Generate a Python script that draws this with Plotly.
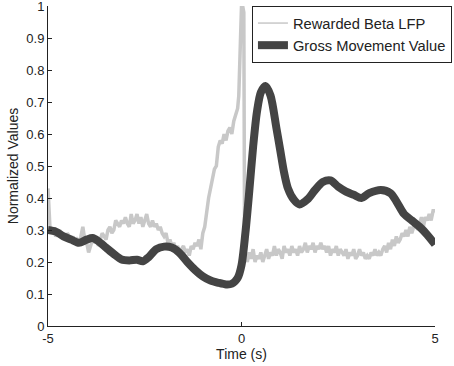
import plotly.graph_objects as go

# Rewarded Beta LFP (light gray, noisy)
lfp_t = [-5.0, -4.97, -4.95, -4.9, -4.85, -4.8, -4.75, -4.7, -4.65, -4.6, -4.55, -4.5, -4.45, -4.4, -4.35,
         -4.3, -4.25, -4.2, -4.15, -4.1, -4.05, -4.0, -3.95, -3.9, -3.85, -3.8, -3.75, -3.7, -3.65,
         -3.6, -3.55, -3.5, -3.45, -3.4, -3.35, -3.3, -3.25, -3.2, -3.15, -3.1, -3.05, -3.0, -2.95,
         -2.9, -2.85, -2.8, -2.75, -2.7, -2.65, -2.6, -2.55, -2.5, -2.45, -2.4, -2.35, -2.3, -2.25,
         -2.2, -2.15, -2.1, -2.05, -2.0, -1.95, -1.9, -1.85, -1.8, -1.75, -1.7, -1.65, -1.6, -1.55,
         -1.5, -1.45, -1.4, -1.35, -1.3, -1.25, -1.2, -1.15, -1.1, -1.05, -1.0, -0.95, -0.9, -0.85,
         -0.8, -0.75, -0.7, -0.65, -0.6, -0.55, -0.5, -0.45, -0.4, -0.35, -0.3, -0.25, -0.2, -0.15,
         -0.1, -0.07, -0.04, -0.02, 0.0, 0.03, 0.06, 0.08, 0.1, 0.15, 0.2, 0.25, 0.3, 0.35, 0.4,
         0.45, 0.5, 0.55, 0.6, 0.65, 0.7, 0.75, 0.8, 0.85, 0.9, 0.95, 1.0, 1.05, 1.1, 1.15, 1.2,
         1.25, 1.3, 1.35, 1.4, 1.45, 1.5, 1.55, 1.6, 1.65, 1.7, 1.75, 1.8, 1.85, 1.9, 1.95, 2.0,
         2.05, 2.1, 2.15, 2.2, 2.25, 2.3, 2.35, 2.4, 2.45, 2.5, 2.55, 2.6, 2.65, 2.7, 2.75, 2.8,
         2.85, 2.9, 2.95, 3.0, 3.05, 3.1, 3.15, 3.2, 3.25, 3.3, 3.35, 3.4, 3.45, 3.5, 3.55, 3.6,
         3.65, 3.7, 3.75, 3.8, 3.85, 3.9, 3.95, 4.0, 4.05, 4.1, 4.15, 4.2, 4.25, 4.3, 4.35, 4.4,
         4.45, 4.5, 4.55, 4.6, 4.65, 4.7, 4.75, 4.8, 4.85, 4.9, 4.95, 5.0]
lfp_v = [0.43, 0.36, 0.31, 0.29, 0.30, 0.28, 0.29, 0.30, 0.28, 0.29, 0.27, 0.29, 0.28, 0.27, 0.28,
         0.26, 0.27, 0.26, 0.28, 0.31, 0.27, 0.26, 0.23, 0.25, 0.27, 0.26, 0.28, 0.25, 0.27,
         0.29, 0.28, 0.27, 0.30, 0.31, 0.29, 0.30, 0.33, 0.32, 0.31, 0.33, 0.32, 0.34, 0.32,
         0.31, 0.35, 0.32, 0.33, 0.35, 0.32, 0.34, 0.31, 0.33, 0.35, 0.32, 0.31, 0.33, 0.31,
         0.32, 0.30, 0.31, 0.29, 0.28, 0.29, 0.26, 0.27, 0.25, 0.26, 0.24, 0.25, 0.23, 0.24,
         0.25, 0.23, 0.24, 0.22, 0.25, 0.24, 0.26, 0.25, 0.27, 0.24, 0.29, 0.31, 0.36, 0.40,
         0.43, 0.46, 0.49, 0.50, 0.56, 0.58, 0.57, 0.60, 0.58, 0.61, 0.62, 0.60, 0.64, 0.66,
         0.68, 0.72, 0.82, 0.92, 1.0, 1.0, 0.98, 0.24, 0.22, 0.20, 0.23, 0.21, 0.24, 0.20, 0.22,
         0.21, 0.23, 0.20, 0.22, 0.24, 0.21, 0.23, 0.22, 0.25, 0.22, 0.24, 0.23, 0.21, 0.25, 0.23, 0.24,
         0.22, 0.25, 0.23, 0.24, 0.22, 0.25, 0.23, 0.24, 0.26, 0.23, 0.25, 0.24, 0.26, 0.23, 0.25, 0.24,
         0.26, 0.24, 0.25, 0.23, 0.25, 0.22, 0.24, 0.23, 0.25, 0.22, 0.24, 0.23, 0.22, 0.24, 0.21, 0.23,
         0.22, 0.24, 0.21, 0.22, 0.24, 0.22, 0.23, 0.21, 0.22, 0.21, 0.23, 0.22, 0.24, 0.22, 0.23, 0.22,
         0.24, 0.25, 0.23, 0.26, 0.24, 0.27, 0.25, 0.28, 0.26, 0.27, 0.29, 0.28, 0.30, 0.28, 0.31, 0.29,
         0.31, 0.33, 0.30, 0.32, 0.34, 0.31, 0.34, 0.33, 0.35, 0.33, 0.36, 0.36]

# Gross Movement Value (dark, smooth)
gmv_t = [-5.0, -4.8, -4.6, -4.4, -4.2, -4.0, -3.85, -3.7, -3.5, -3.3, -3.1, -2.9, -2.7, -2.55, -2.4,
         -2.2, -2.0, -1.8, -1.6, -1.4, -1.2, -1.0, -0.8, -0.6, -0.4, -0.25, -0.1, 0.0, 0.1, 0.2,
         0.3, 0.4, 0.5, 0.62, 0.75, 0.9, 1.0, 1.1, 1.2, 1.35, 1.5, 1.7, 1.9, 2.1, 2.3, 2.5, 2.7,
         2.9, 3.1, 3.3, 3.6, 3.85, 4.0, 4.2, 4.4, 4.6, 4.8, 5.0]
gmv_v = [0.30, 0.295, 0.28, 0.27, 0.26, 0.27, 0.275, 0.265, 0.245, 0.225, 0.208, 0.205, 0.207, 0.202, 0.215,
         0.24, 0.248, 0.245, 0.228, 0.20, 0.175, 0.155, 0.142, 0.135, 0.13, 0.132, 0.15, 0.19, 0.29, 0.42,
         0.56, 0.67, 0.73, 0.75, 0.72, 0.62, 0.55, 0.48, 0.43, 0.395, 0.38, 0.395, 0.425, 0.45, 0.455, 0.435, 0.42,
         0.41, 0.40, 0.415, 0.425, 0.415, 0.39, 0.35, 0.33, 0.31, 0.285, 0.255]

y_ticks = [0, 0.1, 0.2, 0.3, 0.4, 0.5, 0.6, 0.7, 0.8, 0.9, 1]
y_labels = ["0", "0.1", "0.2", "0.3", "0.4", "0.5", "0.6", "0.7", "0.8", "0.9", "1"]
x_ticks = [-5, 0, 5]
x_labels = ["-5", "0", "5"]

fig = go.Figure()
fig.add_trace(go.Scatter(x=lfp_t, y=lfp_v, mode="lines", name="Rewarded Beta LFP",
                         showlegend=False, legendgroup="lfp",
                         line=dict(color="#c8c8c8", width=3.5)))
# legend-only entry with the thin sample line of the original legend
fig.add_trace(go.Scatter(x=[None], y=[None], mode="lines", name="Rewarded Beta LFP",
                         legendgroup="lfp", line=dict(color="#c8c8c8", width=1.5)))
fig.add_trace(go.Scatter(x=gmv_t, y=gmv_v, mode="lines", name="Gross Movement Value",
                         line=dict(color="#444444", width=8, shape="spline", smoothing=0.8)))

font = dict(family="Liberation Sans, Arial, sans-serif", size=13, color="#222222")
tfont = dict(family="Liberation Sans, Arial, sans-serif", size=14, color="#222222")
lfont = dict(family="Liberation Sans, Arial, sans-serif", size=14.7, color="#222222")
fig.update_layout(
    width=454, height=366,
    margin=dict(l=48, r=19, t=6, b=40, autoexpand=False),
    plot_bgcolor="white", paper_bgcolor="white",
    font=font,
    showlegend=True,
    legend=dict(x=0.527, y=1.0, xanchor="left", yanchor="top",
                bordercolor="#222222", borderwidth=1, bgcolor="white",
                font=lfont, tracegroupgap=0),
    xaxis=dict(range=[-5, 5], tickvals=x_ticks, ticktext=x_labels, ticks="inside", ticklen=4,
               showline=True, linecolor="#222222", linewidth=1, showgrid=False, zeroline=False,
               automargin=False, ticklabeloverflow="allow",
               title=dict(text="Time (s)", standoff=2, font=tfont), tickcolor="#222222"),
    yaxis=dict(range=[0, 1], tickvals=y_ticks, ticktext=y_labels, ticks="inside", ticklen=4,
               showline=True, linecolor="#222222", linewidth=1, showgrid=False, zeroline=False,
               automargin=False, ticklabeloverflow="allow",
               title=dict(text="Normalized Values", standoff=4, font=tfont), tickcolor="#222222"),
)
fig.write_html("out.html", config={"displayModeBar": False},
               post_script="document.body.style.margin='0';document.body.style.padding='0';")
